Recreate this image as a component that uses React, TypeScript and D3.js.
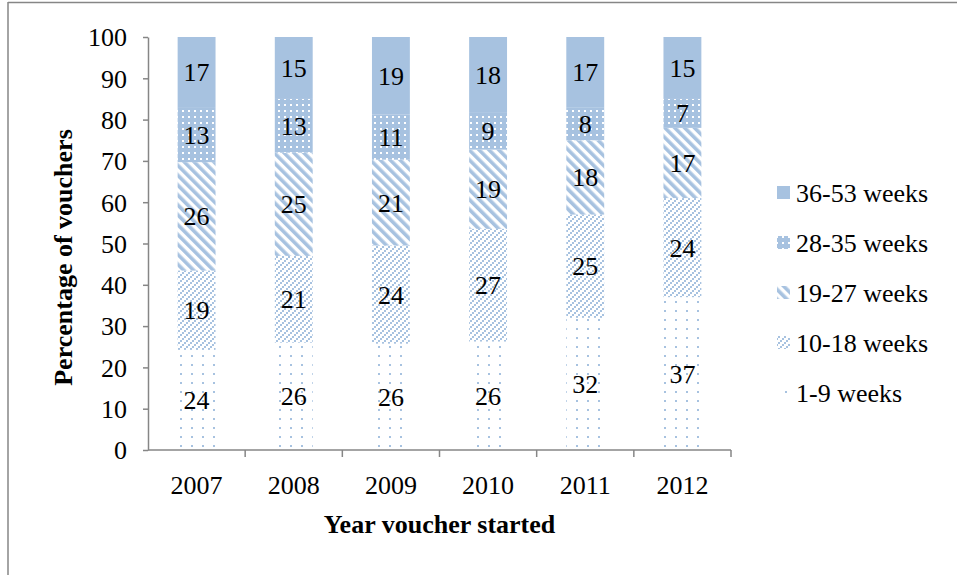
import * as d3 from 'd3';
import { useEffect, useRef } from 'react';

const years = ['2007', '2008', '2009', '2010', '2011', '2012'];
const seriesNames = ['1-9 weeks', '10-18 weeks', '19-27 weeks', '28-35 weeks', '36-53 weeks'];
const weeks1to9 = [24, 26, 26, 26, 32, 37];
const weeks10to18 = [19, 21, 24, 27, 25, 24];
const weeks19to27 = [26, 25, 21, 19, 18, 17];
const weeks28to35 = [13, 13, 11, 9, 8, 7];
const weeks36to53 = [17, 15, 19, 18, 17, 15];
const yTicks = [0, 10, 20, 30, 40, 50, 60, 70, 80, 90, 100];

const BLUE = '#A7C2E0';
const FONT = '"Liberation Serif", "Times New Roman", serif';
const FS = 26;

export default function App() {
  const svgRef = useRef<SVGSVGElement>(null);

  useEffect(() => {
    const svg = d3.select(svgRef.current);
    svg.selectAll('*').remove();

    const table = years.map((y, i) => ({
      year: y,
      '1-9 weeks': weeks1to9[i],
      '10-18 weeks': weeks10to18[i],
      '19-27 weeks': weeks19to27[i],
      '28-35 weeks': weeks28to35[i],
      '36-53 weeks': weeks36to53[i],
    }));

    const left = 148, right = 731, top = 37, bottom = 450;

    // fill patterns, one per series
    const defs = svg.append('defs');
    const pats: Record<string, string> = {};

    const p1 = defs.append('pattern').attr('id', 'p1').attr('patternUnits', 'userSpaceOnUse')
      .attr('width', 11).attr('height', 9);
    p1.append('rect').attr('x', 4).attr('y', 4).attr('width', 2).attr('height', 2).attr('fill', BLUE);
    pats['1-9 weeks'] = 'url(#p1)';

    // dotted upward diagonal
    const p2 = defs.append('pattern').attr('id', 'p2').attr('patternUnits', 'userSpaceOnUse')
      .attr('width', 6).attr('height', 6);
    [[4, 0], [2, 2], [0, 4]].forEach(([px, py]) => {
      p2.append('rect').attr('x', px).attr('y', py).attr('width', 2).attr('height', 2).attr('fill', BLUE);
    });
    pats['10-18 weeks'] = 'url(#p2)';

    // wide downward diagonal
    const p3 = defs.append('pattern').attr('id', 'p3').attr('patternUnits', 'userSpaceOnUse')
      .attr('width', 7).attr('height', 7).attr('patternTransform', 'rotate(-45)');
    p3.append('rect').attr('x', 0).attr('y', 0).attr('width', 3.6).attr('height', 7).attr('fill', BLUE);
    pats['19-27 weeks'] = 'url(#p3)';

    // small grid
    const p4 = defs.append('pattern').attr('id', 'p4').attr('patternUnits', 'userSpaceOnUse')
      .attr('width', 6).attr('height', 6);
    p4.append('rect').attr('width', 6).attr('height', 6).attr('fill', BLUE);
    p4.append('rect').attr('x', 2).attr('y', 2).attr('width', 2).attr('height', 2).attr('fill', '#fff');
    pats['28-35 weeks'] = 'url(#p4)';

    pats['36-53 weeks'] = BLUE;

    // outer frame
    svg.append('line').attr('x1', 8).attr('x2', 957).attr('y1', 2.5).attr('y2', 2.5)
      .attr('stroke', '#868686').attr('stroke-width', 1.5);
    svg.append('line').attr('x1', 8).attr('x2', 8).attr('y1', 2).attr('y2', 575)
      .attr('stroke', '#868686').attr('stroke-width', 1.5);

    const x = d3.scaleBand().domain(years).range([left, right]).paddingInner(0.61).paddingOuter(0.305);
    const xEdges = d3.scaleBand().domain(years).range([left, right]).padding(0);
    const y = d3.scaleLinear().domain([0, 100]).range([bottom, top]);

    const stack = d3.stack<any>().keys(seriesNames).offset(d3.stackOffsetExpand);
    const layers = stack(table);

    const g = svg.append('g');
    layers.forEach(layer => {
      g.selectAll(null).data(layer).enter().append('rect')
        .attr('x', d => x(d.data.year)!)
        .attr('width', x.bandwidth())
        .attr('y', d => y(d[1] * 100))
        .attr('height', d => y(d[0] * 100) - y(d[1] * 100))
        .attr('fill', pats[layer.key]);
      g.selectAll(null).data(layer).enter().append('text')
        .attr('x', d => x(d.data.year)! + x.bandwidth() / 2)
        .attr('y', d => y((d[0] + d[1]) * 50) + 9)
        .attr('text-anchor', 'middle')
        .attr('font-family', FONT).attr('font-size', FS).attr('fill', '#000')
        .text(d => d.data[layer.key]);
    });

    // y axis
    const yAxis = svg.append('g').attr('transform', `translate(${left},0)`)
      .call(d3.axisLeft(y).tickValues(yTicks).tickSize(5).tickSizeOuter(0).tickPadding(16));
    yAxis.select('.domain').attr('stroke', '#868686').attr('stroke-width', 1.5);
    yAxis.selectAll('line').attr('stroke', '#868686').attr('stroke-width', 1.5);
    yAxis.selectAll('text').attr('font-family', FONT).attr('font-size', FS).attr('fill', '#000').attr('dy', '0.34em');

    // x axis
    const xAxis = svg.append('g').attr('transform', `translate(0,${bottom})`);
    xAxis.append('line').attr('x1', left).attr('x2', right).attr('y1', 0).attr('y2', 0)
      .attr('stroke', '#868686').attr('stroke-width', 1.5);
    const edges = years.map(yr => xEdges(yr)! + xEdges.bandwidth());
    xAxis.selectAll(null).data(edges).enter().append('line')
      .attr('x1', d => d).attr('x2', d => d).attr('y1', 0).attr('y2', 7)
      .attr('stroke', '#868686').attr('stroke-width', 1.5);
    xAxis.selectAll(null).data(years).enter().append('text')
      .attr('x', d => x(d)! + x.bandwidth() / 2).attr('y', 44)
      .attr('text-anchor', 'middle')
      .attr('font-family', FONT).attr('font-size', FS).attr('fill', '#000')
      .text(d => d);

    // axis titles
    svg.append('text').attr('x', (left + right) / 2).attr('y', 533)
      .attr('text-anchor', 'middle').attr('font-family', FONT).attr('font-size', FS)
      .attr('font-weight', 'bold').text('Year voucher started');
    svg.append('text').attr('transform', `translate(72,${(top + bottom) / 2 + 14}) rotate(-90)`)
      .attr('text-anchor', 'middle').attr('font-family', FONT).attr('font-size', FS)
      .attr('font-weight', 'bold').text('Percentage of vouchers');

    // legend
    const legend = svg.append('g');
    const legendItems = seriesNames.slice().reverse();
    legendItems.forEach((name, i) => {
      const ly = 193 + i * 50;
      legend.append('rect').attr('x', 777).attr('y', ly - 7).attr('width', 13).attr('height', 13)
        .attr('fill', pats[name]);
      legend.append('text').attr('x', 796).attr('y', ly + 9)
        .attr('font-family', FONT).attr('font-size', FS).attr('fill', '#000').text(name);
    });
  }, []);

  return (
    <svg ref={svgRef} width={957} height={575}
      style={{ position: 'absolute', left: 0, top: 0, background: '#fff' }} />
  );
}
